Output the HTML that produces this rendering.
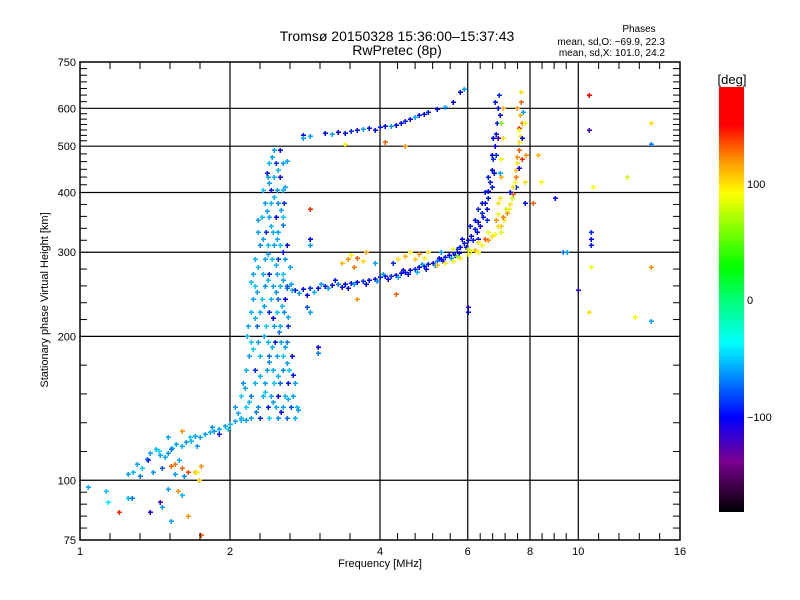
<!DOCTYPE html>
<html><head><meta charset="utf-8"><style>
body{margin:0;background:#fff;}
svg{display:block;font-family:"Liberation Sans",sans-serif;}
</style></head><body>
<svg id="chart" width="800" height="600" viewBox="0 0 800 600">
<rect width="800" height="600" fill="#fff"/>
<text x="397" y="41" font-size="14" text-anchor="middle">Tromsø 20150328 15:36:00–15:37:43</text>
<text x="397" y="55" font-size="14" text-anchor="middle">RwPretec (8p)</text>
<text x="639" y="32" font-size="10" text-anchor="middle">Phases</text>
<text x="665" y="45" font-size="10" text-anchor="end">mean, sd,O: −69.9, 22.3</text>
<text x="665" y="56" font-size="10" text-anchor="end">mean, sd,X: 101.0, 24.2</text>
<g id="grid"></g>
<g id="points"></g>
<g id="axes"></g>
<text x="380" y="567" font-size="11" text-anchor="middle">Frequency [MHz]</text>
<text transform="translate(48,300) rotate(-90)" font-size="11" text-anchor="middle">Stationary phase Virtual Height [km]</text>
<defs><linearGradient id="cg" x1="0" y1="1" x2="0" y2="0">
<stop offset="0" stop-color="#000"/><stop offset="0.12" stop-color="#7a0090"/><stop offset="0.223" stop-color="#0000ff"/><stop offset="0.397" stop-color="#00ffff"/><stop offset="0.498" stop-color="#00ff78"/><stop offset="0.575" stop-color="#00ff00"/><stop offset="0.75" stop-color="#ffff00"/><stop offset="0.83" stop-color="#ff9000"/><stop offset="0.91" stop-color="#ff0000"/><stop offset="1" stop-color="#ff0000"/>
</linearGradient></defs>
<rect x="719" y="87" width="25" height="425" fill="url(#cg)"/>
<text x="732" y="84" font-size="13" text-anchor="middle">[deg]</text>
<text x="747" y="188" font-size="11">100</text>
<text x="747" y="304" font-size="11">0</text>
<text x="747" y="421" font-size="11">−100</text>
</svg>
<script>
const xTickValues=[1,2,4,6,8,10,16];
const xTickLabels=["1","2","4","6","8","10","16"];
const yTickValues=[75,100,200,300,400,500,600,750];
const yTickLabels=["75","100","200","300","400","500","600","750"];
const yMinorDiv=[5,5,5,5,6,7,7];
const xMinorDiv=[5,5,5,5,4,5];

const eTrace=[[1.28,104,-55],[1.3,108,-60],[1.33,106,-50],[1.36,111,-65],[1.38,114,-60],[1.42,116,-55],[1.45,113,-60],[1.48,112,-58],[1.5,114,-62],[1.53,117,-55],[1.56,119,-60],[1.6,118,-58],[1.63,120,-62],[1.67,121,-55],[1.7,124,-60],[1.74,123,-58],[1.78,125,-60],[1.82,126,-55],[1.86,127,-62],[1.9,128,-58],[1.95,130,-60],[2.0,131,-55],[2.05,133,-60],[2.1,134,-58],[2.15,134,-62],[2.2,135,-55],[1.32,102,-70],[1.4,104,-65],[1.46,106,-80],[1.55,103,-60],[1.62,102,-65],[1.25,103,-60],[1.37,110,-90],[1.5,123,-60],[1.58,110,-55],[1.72,118,-62],[1.9,125,-95],[1.44,115,-45],[1.52,116,-70],[1.66,123,-50],[1.84,129,-65],[1.98,128,-50]];
const eOrange=[[1.52,107,130],[1.55,108,125],[1.6,106,128],[1.65,104,135],[1.7,104,110],[1.75,107,120],[1.6,127,120],[1.73,100,105],[1.72,104,95]];
const lowScatter=[[1.04,97,-60],[1.13,95,-50],[1.25,92,-55],[1.2,86,140],[1.27,92,-70],[1.38,86,-110],[1.46,88,-60],[1.52,82,-60],[1.57,95,120],[1.5,96,-60],[1.65,84,120],[1.75,77,130],[1.6,93,-55],[1.45,90,-120],[1.14,90,-40]];
const cloudRows=[
[135,[2.1,2.2,2.3,2.4,2.5,2.6,2.7],[-55,-60,-90,-50,-65,-75,-55]],
[142,[2.05,2.15,2.28,2.38,2.47,2.55,2.65,2.72],[-60,-50,-65,-95,-55,-60,-80,-55]],
[150,[2.1,2.2,2.33,2.42,2.5,2.58,2.68],[-50,-70,-55,-60,-100,-55,-60]],
[160,[2.12,2.25,2.35,2.45,2.52,2.62,2.7],[-65,-55,-60,-50,-75,-95,-60]],
[170,[2.15,2.25,2.37,2.44,2.55,2.63],[-55,-90,-60,-55,-65,-50]],
[182,[2.18,2.3,2.4,2.48,2.56,2.66],[-60,-55,-75,-60,-50,-100]],
[195,[2.2,2.28,2.38,2.46,2.53,2.6],[-50,-60,-55,-95,-60,-70]],
[210,[2.17,2.27,2.36,2.45,2.52,2.62],[-60,-75,-50,-60,-55,-90]],
[225,[2.2,2.3,2.4,2.48,2.57],[-55,-60,-90,-50,-65]],
[240,[2.22,2.32,2.42,2.5,2.58],[-60,-50,-55,-75,-100]],
[255,[2.25,2.35,2.44,2.52,2.6],[-50,-65,-60,-55,-80]],
[270,[2.22,2.33,2.4,2.48,2.56],[-60,-55,-95,-60,-50]],
[290,[2.25,2.35,2.43,2.5,2.58],[-55,-60,-50,-85,-60]],
[310,[2.3,2.38,2.45,2.52,2.6],[-65,-55,-60,-50,-100]],
[330,[2.28,2.36,2.44,2.5],[-60,-90,-55,-60]],
[355,[2.32,2.4,2.47,2.55],[-55,-60,-100,-50]],
[380,[2.35,2.42,2.5,2.57],[-60,-55,-65,-90]],
[405,[2.33,2.42,2.48,2.56],[-50,-95,-60,-55]],
[430,[2.38,2.45,2.52],[-60,-55,-100]],
[460,[2.4,2.47,2.55],[-55,-90,-60]],
[490,[2.45,2.52],[-60,-100]]];
const cloudExtra=[[2.08,138,-60],[2.18,146,-55],[2.26,139,-70],[2.35,153,-50],[2.44,146,-60],[2.53,139,-100],[2.62,148,-55],[2.74,140,-60],[2.14,156,-60],[2.3,165,-55],[2.4,177,-65],[2.5,165,-55],[2.6,176,-60],[2.68,166,-95],[2.22,188,-50],[2.34,200,-60],[2.43,190,-55],[2.51,204,-70],[2.58,190,-60],[2.24,218,-55],[2.34,232,-60],[2.44,218,-100],[2.54,232,-55],[2.62,220,-60],[2.27,248,-60],[2.38,262,-55],[2.47,248,-65],[2.55,262,-60],[2.28,280,-55],[2.38,298,-60],[2.47,282,-55],[2.55,300,-95],[2.33,320,-60],[2.42,340,-55],[2.48,320,-60],[2.56,342,-70],[2.37,366,-60],[2.45,392,-55],[2.53,368,-60],[2.4,418,-60],[2.5,445,-55],[2.43,475,-60],[2.37,440,-95],[2.58,410,-60],[2.28,350,-60],[2.2,260,-55],[2.64,280,-60],[2.66,250,-55],[2.7,160,-60],[2.16,200,-55]];
const oTrace=[[2.6,252,-70],[2.7,250,-95],[2.8,251,-100],[2.9,252,-90],[3.0,253,-100],[3.1,255,-95],[3.2,256,-100],[3.3,257,-70],[3.4,258,-100],[3.5,259,-95],[3.6,260,-100],[3.7,261,-90],[3.8,262,-100],[3.9,264,-100],[4.0,266,-95],[4.1,267,-100],[4.2,268,-90],[4.3,269,-100],[4.4,271,-100],[4.5,273,-95],[4.6,275,-100],[4.7,277,-90],[4.8,279,-100],[4.9,281,-100],[5.0,283,-95],[5.1,285,-100],[5.2,287,-70],[5.3,290,-100],[5.4,293,-95],[5.5,296,-100],[5.6,300,-100],[5.7,304,-90],[5.8,308,-100],[5.9,313,-95],[6.0,318,-100],[6.1,325,-100],[6.2,335,-95],[6.3,347,-100],[6.4,362,-90],[6.5,380,-100],[6.6,402,-100],[6.65,420,-95],[6.7,445,-100],[6.75,470,-90],[6.8,500,-100],[6.83,530,-100],[6.86,560,-95],[6.9,600,-100],[6.92,640,-90],
[2.75,246,-60],[2.95,248,-55],[3.15,252,-60],[3.35,254,-100],[3.55,257,-60],[3.75,258,-100],[3.95,261,-65],[4.15,264,-100],[4.35,266,-60],[4.55,270,-100],[4.75,273,-55],[4.95,277,-100],[5.15,282,-65],[5.35,287,-100],[5.55,292,-60],[5.75,299,-100],[5.95,307,-100],[6.15,318,-95],[6.35,340,-100],[6.55,370,-100],[6.7,410,-95],[6.78,440,-100],[6.85,480,-90],[6.6,390,-95],[6.45,355,-100],[6.25,330,-100],[5.85,320,-100],[6.05,340,-95],[6.5,400,-100],[6.9,520,-120],[6.95,580,-100],[2.65,258,-60],[2.85,244,-100],[3.05,258,-60],[3.25,262,-95],[3.45,252,-100],[4.05,270,-60],[4.45,276,-100],[4.85,284,-60],[5.25,292,-100],[5.65,296,-100],[6.3,320,-100],[6.55,350,-90],[6.4,380,-100],[6.6,430,-95],[6.7,480,-100],[6.75,520,-100],[6.8,620,-95],[6.2,350,-100],[6.3,370,-90]];
const xTrace=[[5.2,282,110],[5.4,285,95],[5.6,288,90],[5.8,292,100],[6.0,297,85],[6.2,303,110],[6.4,310,95],[6.6,318,120],[6.8,328,90],[7.0,340,110],[7.1,350,95],[7.2,362,120],[7.3,378,100],[7.4,398,130],[7.45,420,90],[7.5,445,110],[7.55,475,120],[7.6,510,100],[7.62,545,140],[7.65,580,110],[7.67,620,130],[7.68,650,100],
[5.7,295,60],[6.1,302,90],[6.5,320,130],[6.9,340,100],[7.05,355,125],[7.25,370,95],[7.35,390,80],[7.5,430,125],[7.55,460,100],[7.6,490,130],[7.65,525,95],[7.7,560,120],[7.0,330,80],[6.7,325,100],[7.3,400,-100],[7.5,410,-90],[7.6,450,-100],[7.7,520,-100],[6.9,360,90],[6.95,390,100],[7.0,430,110],[7.0,470,90],[7.05,520,100],[7.0,560,60],[7.05,600,110],[6.95,440,-60],[6.9,380,100],[7.8,420,100],[7.85,480,120],[7.8,380,-100],[7.8,560,90],[7.75,590,-60],[6.3,315,100],[6.6,330,90],[6.85,350,120],[7.15,370,80],[7.4,410,100],[7.6,540,90],[7.55,600,120],[7.7,470,140],[6.0,305,80],[6.3,300,90]];
const esPatch=[[3.35,285,110],[3.45,290,120],[3.5,296,95],[3.6,292,130],[3.7,287,100],[3.75,300,115],[3.55,280,125],[4.35,290,100],[4.5,295,110],[4.6,300,95],[4.7,290,105],[4.8,298,120],[4.9,292,90],[5.0,300,100],[5.6,305,85],[3.9,285,-60],[5.3,300,-60],[4.25,285,-90],[3.6,240,120],[4.3,245,130],[2.9,225,-60],[2.85,230,-80]];
const upperTrace=[[2.8,528,-100],[2.9,525,-60],[3.1,532,-100],[3.2,530,-60],[3.3,535,-100],[3.4,533,-100],[3.5,538,-90],[3.6,540,-100],[3.7,542,-60],[3.8,545,-100],[3.9,540,-100],[4.0,548,-95],[4.1,550,-100],[4.2,552,-60],[4.3,555,-100],[4.4,560,-100],[4.5,565,-95],[4.6,570,-100],[4.7,575,-60],[4.8,580,-100],[4.9,585,-100],[5.0,590,-95],[5.2,598,-100],[5.4,605,-60],[5.6,620,-100],[5.8,650,-100],[5.9,660,-60],[4.5,500,120],[4.1,510,130],[3.4,505,90],[2.6,465,-60],[2.8,520,-60]];
const highScatter=[[9.0,390,-100],[9.3,300,-70],[10.0,250,-110],[10.5,640,160],[10.5,540,-120],[10.7,410,90],[10.6,330,-90],[10.6,320,-100],[10.6,310,-95],[10.6,280,90],[10.5,225,100],[12.5,430,80],[13,220,90],[14,280,120],[14,215,-60],[14,560,100],[14,505,-70],[9.5,300,-60],[6.0,230,-110],[6.0,225,-100],[8.3,480,110],[8.1,380,130],[8.4,420,90],[3.0,190,-100],[3.0,185,-70],[2.9,370,140],[2.9,320,-100],[2.9,310,-60]];

function xS(f){return 80+150*Math.log2(f);}
function yS(h){return 540-478*Math.log10(h/75);}
const stops=[[-180,[0,0,0]],[-137,[122,0,144]],[-100,[0,0,255]],[-37,[0,255,255]],[0,[0,255,120]],[28,[0,255,0]],[92,[255,255,0]],[120,[255,144,0]],[148,[255,0,0]],[185,[255,0,0]]];
function col(p){for(let i=1;i<stops.length;i++){if(p<=stops[i][0]){const a=stops[i-1],b=stops[i],t=Math.max(0,(p-a[0])/(b[0]-a[0]));return 'rgb('+a[1].map((c,k)=>Math.round(c+(b[1][k]-c)*t)).join(',')+')';}}return 'rgb(255,0,0)';}
const NS='http://www.w3.org/2000/svg';
function mk(tag,attrs,parent){const e=document.createElementNS(NS,tag);for(const k in attrs)e.setAttribute(k,attrs[k]);parent.appendChild(e);return e;}
const grid=document.getElementById('grid'),axes=document.getElementById('axes'),pts=document.getElementById('points');
xTickValues.forEach((v,i)=>{const x=xS(v);
 if(i>0&&i<xTickValues.length-1){const l=mk('line',{x1:x,x2:x,y1:62,y2:540,stroke:'#000','stroke-width':1.2},grid);
 
 }
 const t=mk('text',{x:x,y:555,'font-size':11,'text-anchor':'middle'},axes);t.textContent=xTickLabels[i];
 
 
 if(i<xTickValues.length-1){const x2=xS(xTickValues[i+1]),n=xMinorDiv[i];for(let k=1;k<n;k++){const xx=x+(x2-x)*k/n;
  mk('line',{x1:xx,x2:xx,y1:540,y2:533,stroke:'#000'},axes);mk('line',{x1:xx,x2:xx,y1:62,y2:69,stroke:'#000'},axes);}}
});
yTickValues.forEach((v,i)=>{const y=yS(v);
 if(i>0&&i<yTickValues.length-1){const l=mk('line',{x1:80,x2:680,y1:y,y2:y,stroke:'#000','stroke-width':1.2},grid);
 
 }
 const t=mk('text',{x:76,y:y+4,'font-size':11,'text-anchor':'end'},axes);t.textContent=yTickLabels[i];
 
 
 if(i<yTickValues.length-1){const y2=yS(yTickValues[i+1]),n=yMinorDiv[i];for(let k=1;k<n;k++){const yy=y+(y2-y)*k/n;
  mk('line',{x1:80,x2:87,y1:yy,y2:yy,stroke:'#000'},axes);mk('line',{x1:680,x2:673,y1:yy,y2:yy,stroke:'#000'},axes);}}
});
const frame=mk('rect',{x:80,y:62,width:600,height:478,fill:'none',stroke:'#000','stroke-width':1.5},axes);


function plus(f,h,p,name){const x=Math.round(xS(f)),y=Math.round(yS(h)),c=col(p);
 const g=mk('g',{fill:c},pts);
 
 
 mk('rect',{x:x-2,y:y-0.5,width:5,height:1.5},g);mk('rect',{x:x-0.5,y:y-2,width:1.5,height:5},g);}
[[eTrace,'e-trace-point'],[eOrange,'e-orange-point'],[lowScatter,'low-scatter-point'],[cloudExtra,'spread-cloud-point'],[oTrace,'o-trace-point'],[xTrace,'x-trace-point'],[esPatch,'es-point'],[upperTrace,'upper-trace-point'],[highScatter,'high-scatter-point']].forEach(([arr,n])=>arr.forEach(d=>plus(d[0],d[1],d[2],n)));
cloudRows.forEach(r=>r[1].forEach((f,k)=>plus(f,r[0],r[2][k],'spread-cloud-point')));
</script>
</body></html>
